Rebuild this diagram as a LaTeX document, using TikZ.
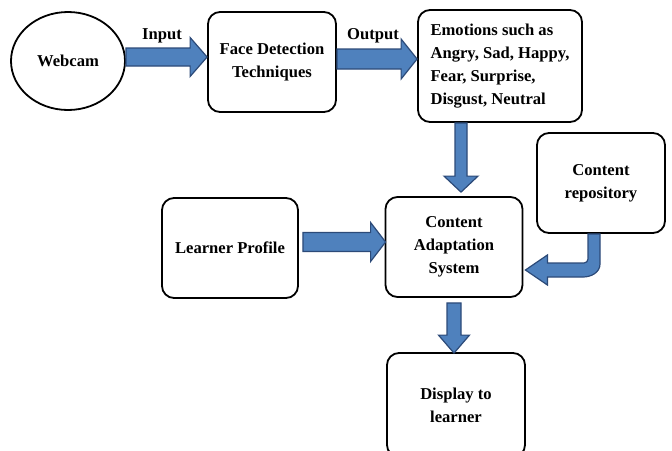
\documentclass[tikz,border=0pt]{standalone}
\usepackage{fontspec}
\setmainfont{Liberation Serif}
\usetikzlibrary{calc,shapes.geometric}
\definecolor{arrfill}{RGB}{79,129,189}
\definecolor{arrline}{RGB}{44,74,120}
\newcommand\hblock[5]{\draw[barrow] let \p1=(#1), \p2=(#2) in (\x1,\y1+#3) -- (\x2-#5,\y1+#3) -- (\x2-#5,\y1+#4) -- (\x2,\y1) -- (\x2-#5,\y1-#4) -- (\x2-#5,\y1-#3) -- (\x1,\y1-#3) -- cycle;}
\newcommand\vblock[5]{\draw[barrow] let \p1=(#1), \p2=(#2) in (\x1-#3,\y1) -- (\x1-#3,\y2+#5) -- (\x1-#4,\y2+#5) -- (\x1,\y2) -- (\x1+#4,\y2+#5) -- (\x1+#3,\y2+#5) -- (\x1+#3,\y1) -- cycle;}
\begin{document}
\begin{tikzpicture}[x=1pt,y=-1pt,
  box/.style={draw=black, line width=1.8pt, rounded corners=12pt, align=center, inner sep=0pt,
    font=\fontsize{16.6}{23}\selectfont\bfseries},
  barrow/.style={fill=arrfill, draw=arrline, line width=1.2pt, line join=miter},
  lab/.style={font=\fontsize{16.6}{20}\selectfont\bfseries, inner sep=0pt}]
\clip (0,0) rectangle (672,450);
\node[box, ellipse, rounded corners=0pt, minimum width=114pt, minimum height=98pt] (web) at (68,61) {Webcam};
\node[box, minimum width=128pt, minimum height=100pt] (face) at (272,62) {Face Detection\\Techniques};
\node[box, minimum width=164pt, minimum height=112pt, align=left] (emo) at (500,66) {Emotions such as\\Angry, Sad, Happy,\\Fear, Surprise,\\Disgust, Neutral};
\node[box, minimum width=128pt, minimum height=100pt] (repo) at (601,183) {Content\\repository};
\node[box, minimum width=137pt, minimum height=100pt] (adapt) at (454,247) {Content\\Adaptation\\System};
\node[box, minimum width=136pt, minimum height=100pt] (learner) at (230,248) {Learner Profile};
\node[box, minimum width=138pt, minimum height=104pt] (disp) at (456,405) {Display to\\learner};
\node[lab] (inlab) at (162,36) {Input};
\node[lab] (outlab) at (373,36) {Output};
% arrows
\hblock{$(web.east)+(0,-4)$}{face.west}{9pt}{19.5pt}{17pt}
\hblock{$(face.east)+(0,-3)$}{$(emo.west)+(0,0)$}{10pt}{20pt}{16pt}
\vblock{$(emo.south -| adapt.north)+(7,0)$}{$(adapt.north)+(7,-4)$}{6pt}{17pt}{16pt}
\hblock{$(learner.east)+(4,-6)$}{$(adapt.west)+(1,0)$}{9.5pt}{19.5pt}{15pt}
\vblock{$(adapt.south)+(0,5)$}{$(disp.north)+(0,1)$}{7pt}{15.5pt}{18pt}
\draw[barrow] let \p1=($(repo.south)+(-7,0)$), \p2=($(adapt.east)+(2,23)$) in
  (\x1+6pt,\y1) -- (\x1+6pt,\y2+6pt) to[out=-90,in=0] (\x1-11pt,\y2-7pt) -- (\x2+22pt,\y2-7pt) -- (\x2+22pt,\y2-15pt) -- (\x2,\y2) -- (\x2+22pt,\y2+15pt) -- (\x2+22pt,\y2+7pt) -- (\x1-10pt,\y2+7pt) to[out=0,in=-90] (\x1-6pt,\y2+11pt) -- (\x1-6pt,\y1) -- cycle;
\end{tikzpicture}
\end{document}
